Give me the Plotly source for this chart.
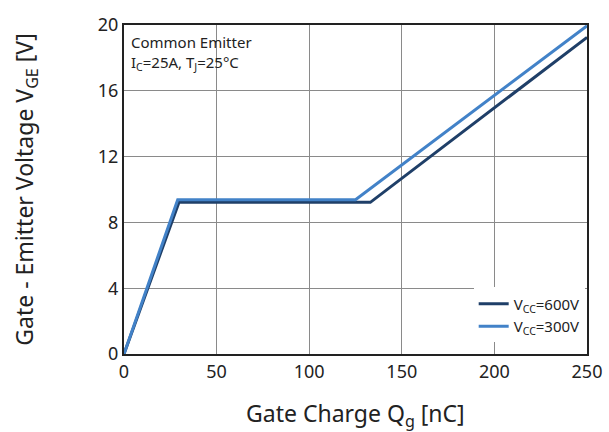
import plotly.graph_objects as go

q_600 = [0, 29.7, 133, 250]
v_600 = [0, 9.22, 9.22, 19.25]
q_300 = [0, 29, 125, 250]
v_300 = [0, 9.38, 9.38, 19.95]
x_ticks = [0, 50, 100, 150, 200, 250]
y_ticks = [0, 4, 8, 12, 16, 20]

FONT = "Noto Sans"
fig = go.Figure()
fig.add_trace(go.Scatter(x=q_600, y=v_600, mode="lines", name="V<sub>CC</sub>=600V",
                         line=dict(color="#1f3f68", width=3)))
fig.add_trace(go.Scatter(x=q_300, y=v_300, mode="lines", name="V<sub>CC</sub>=300V",
                         line=dict(color="#4282c8", width=3)))

axis_common = dict(showgrid=True, gridcolor="#8a8a8a", gridwidth=1, zeroline=False,
                   showline=True, linecolor="#222", linewidth=2, mirror=True,
                   ticks="", tickfont=dict(size=18, color="#222", family=FONT))
fig.update_xaxes(range=[0, 250], tickvals=x_ticks, automargin=False, **axis_common)
fig.update_yaxes(range=[0, 20], tickvals=y_ticks,
                 title=dict(text="Gate - Emitter Voltage V<sub>GE</sub> [V]", font=dict(size=23, color="#222", family=FONT), standoff=58),
                 **axis_common)

fig.add_annotation(xref="paper", yref="paper", x=0.5, y=-0.185, xanchor="center", yanchor="middle",
                   showarrow=False, text="Gate Charge Q<sub>g</sub> [nC]",
                   font=dict(size=23, color="#222", family=FONT))

fig.add_annotation(xref="paper", yref="paper", x=0.01, y=0.985, xanchor="left", yanchor="top",
                   align="left", showarrow=False,
                   text="Common Emitter<br>I<sub>C</sub>=25A, T<sub>J</sub>=25°C",
                   font=dict(size=15, color="#222", family=FONT))

fig.update_layout(width=609, height=432, margin=dict(l=124, r=22, t=14, b=78),
                  plot_bgcolor="white", paper_bgcolor="white",
                  font=dict(family=FONT, color="#222"),
                  legend=dict(x=0.995, y=0.035, xanchor="right", yanchor="bottom",
                              bgcolor="white", font=dict(size=15, color="#222", family=FONT),
                              tracegroupgap=0))
fig.write_html("out.html")
